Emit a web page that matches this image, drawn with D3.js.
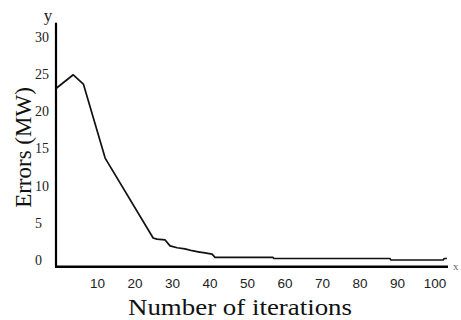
<!DOCTYPE html>
<html>
<head>
<meta charset="utf-8">
<script src="https://cdn.jsdelivr.net/npm/d3@7"></script>
<style>
  html, body { margin: 0; padding: 0; background: #fff; overflow: hidden; }
  svg { display: block; }
</style>
</head>
<body>
<script>
// ---- data ----
const iterations = [0, 4.6, 7.3, 13.1, 25.9, 26.9, 29.1, 30.4, 32.3, 34.4, 36.3, 37.9, 39.7, 41.6, 42.4, 57.8, 58.1, 89.0, 89.3, 103.2, 103.5, 104.2];
const errors     = [23.05, 24.9, 23.65, 13.7, 2.96, 2.8, 2.7, 1.9, 1.65, 1.5, 1.25, 1.1, 0.95, 0.8, 0.36, 0.36, 0.2, 0.2, 0.0, 0.0, 0.2, 0.2];
const xTicks = [10, 20, 30, 40, 50, 60, 70, 80, 90, 100];
const yTicks = [0, 5, 10, 15, 20, 25, 30];
const xTitle = "Number of iterations";
const yTitle = "Errors (MW)";

const W = 461, H = 320;
const svg = d3.select("body").append("svg").attr("width", W).attr("height", H);
svg.append("rect").attr("width", W).attr("height", H).attr("fill", "#fff");

const x = d3.scaleLinear().domain([0, 104.5]).range([56, 448]);
const y = d3.scaleLinear().domain([-0.9, 31.9]).range([266.7, 22.7]);

// axes lines
svg.append("line")
  .attr("x1", x(0)).attr("x2", x(0))
  .attr("y1", y(31.9)).attr("y2", y(-0.9))
  .attr("stroke", "#000").attr("stroke-width", 2.2);
svg.append("line")
  .attr("x1", x(0) - 1).attr("x2", x(104.5))
  .attr("y1", y(-0.9)).attr("y2", y(-0.9))
  .attr("stroke", "#000").attr("stroke-width", 2.6);

// y tick labels (left aligned)
svg.append("g").selectAll("text").data(yTicks).join("text")
  .attr("x", 35)
  .attr("y", d => y(d))
  .attr("dy", "0.36em")
  .attr("font-family", "'Liberation Serif', 'DejaVu Serif', serif")
  .attr("font-size", 14)
  .attr("fill", "#222")
  .text(d => d);

// x tick labels
svg.append("g").selectAll("text").data(xTicks).join("text")
  .attr("x", d => x(d) + 4)
  .attr("y", 288)
  .attr("text-anchor", "middle")
  .attr("font-family", "'Liberation Sans', Arial, sans-serif")
  .attr("font-size", 13.5)
  .attr("fill", "#222")
  .text(d => d);

// axis letters
svg.append("text")
  .attr("x", 48).attr("y", 21)
  .attr("text-anchor", "middle")
  .attr("font-family", "'Liberation Serif', serif")
  .attr("font-size", 17)
  .attr("fill", "#222")
  .text("y");
svg.append("text")
  .attr("x", 453).attr("y", 270)
  .attr("font-family", "'Liberation Serif', serif")
  .attr("font-size", 11)
  .attr("fill", "#666")
  .text("x");

// titles
svg.append("text")
  .attr("x", 128).attr("y", 315)
  .attr("font-family", "'Liberation Serif', serif")
  .attr("font-size", 23)
  .attr("textLength", 224)
  .attr("lengthAdjust", "spacingAndGlyphs")
  .attr("fill", "#111")
  .text(xTitle);
svg.append("text")
  .attr("transform", "translate(31,147.5) rotate(-90)")
  .attr("text-anchor", "middle")
  .attr("font-family", "'Liberation Serif', serif")
  .attr("font-size", 23)
  .attr("fill", "#111")
  .text(yTitle);

// the curve
const pts = iterations.map((v, i) => [v, errors[i]]);
const line = d3.line().x(d => x(d[0])).y(d => y(d[1]));
svg.append("path")
  .attr("d", line(pts))
  .attr("fill", "none")
  .attr("stroke", "#111")
  .attr("stroke-width", 1.7)
  .attr("stroke-linejoin", "round");
</script>
</body>
</html>
